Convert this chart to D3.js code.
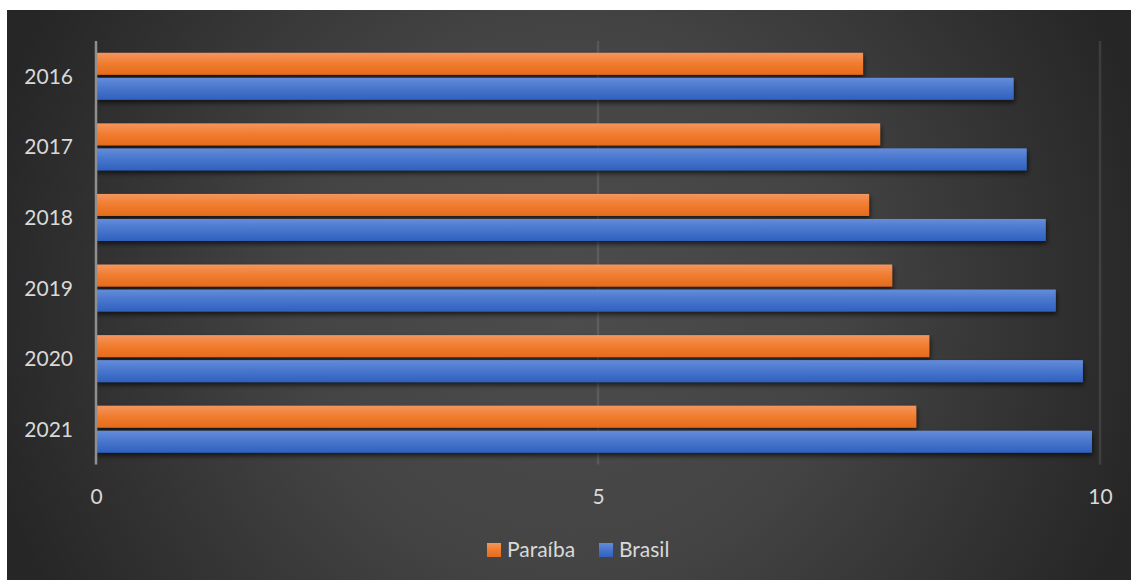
<!DOCTYPE html>
<html>
<head>
<meta charset="utf-8">
<script src="https://cdn.jsdelivr.net/npm/d3@7"></script>
<style>
html,body{margin:0;padding:0;background:#fff;}
svg{display:block;}
text{font-family:Lato,"Open Sans",sans-serif;}
</style>
</head>
<body>
<svg id="chart" width="1131" height="581"></svg>
<script>
const categories = ["2016","2017","2018","2019","2020","2021"];
const seriesNames = ["Paraíba","Brasil"];
const paraiba = [7.64, 7.81, 7.70, 7.93, 8.30, 8.17];
const brasil  = [9.14, 9.27, 9.46, 9.56, 9.83, 9.92];
const xTicks = [0, 5, 10];

const svg = d3.select("#chart");
const defs = svg.append("defs");

// background radial gradient
const bg = defs.append("radialGradient").attr("id","bgGrad")
  .attr("gradientUnits","userSpaceOnUse").attr("cx",569).attr("cy",300).attr("r",600);
bg.append("stop").attr("offset",0).attr("stop-color","#4c4c4c");
bg.append("stop").attr("offset",0.45).attr("stop-color","#444444");
bg.append("stop").attr("offset",1).attr("stop-color","#262626");

const grads = {
  "Paraíba": ["#f5955e","#f07c2e","#e56b1c"],
  "Brasil":  ["#648cda","#4775cc","#2f61be"]
};
seriesNames.forEach((s,i)=>{
  const g = defs.append("linearGradient").attr("id","bar"+i).attr("x1",0).attr("y1",0).attr("x2",0).attr("y2",1);
  g.append("stop").attr("offset",0).attr("stop-color",grads[s][0]);
  g.append("stop").attr("offset",0.5).attr("stop-color",grads[s][1]);
  g.append("stop").attr("offset",1).attr("stop-color",grads[s][2]);
});
const f = defs.append("filter").attr("id","shadow").attr("x","-5%").attr("y","-50%").attr("width","110%").attr("height","200%");
f.append("feDropShadow").attr("dx",1).attr("dy",3).attr("stdDeviation",2.5).attr("flood-color","#000").attr("flood-opacity",0.65);

svg.append("rect").attr("x",7).attr("y",10).attr("width",1124).attr("height",570).attr("fill","url(#bgGrad)");

const x = d3.scaleLinear().domain([0,10]).range([96,1100]);
const y = d3.scaleBand().domain(categories).range([41,464.5]).paddingInner(0.334).paddingOuter(0.167);
const ys = d3.scaleBand().domain(seriesNames).range([0,y.bandwidth()]).paddingInner(0.12);

// gridlines
svg.append("g").selectAll("line").data(xTicks.filter(t=>t>0)).join("line")
  .attr("x1",d=>x(d)).attr("x2",d=>x(d)).attr("y1",41).attr("y2",464.5)
  .attr("stroke","#ffffff").attr("stroke-opacity",0.1).attr("stroke-width",2.5);

// bars
const data = categories.map((c,i)=>({cat:c, vals:[{s:"Paraíba",v:paraiba[i],k:0},{s:"Brasil",v:brasil[i],k:1}]}));
const groups = svg.append("g").selectAll("g").data(data).join("g")
  .attr("transform",d=>`translate(0,${y(d.cat)})`);
groups.selectAll("rect").data(d=>d.vals).join("rect")
  .attr("x",x(0)).attr("y",d=>ys(d.s)).attr("width",d=>x(d.v)-x(0)).attr("height",ys.bandwidth())
  .attr("fill",d=>`url(#bar${d.k})`).attr("filter","url(#shadow)");

// axis line at 0
svg.append("line").attr("x1",x(0)).attr("x2",x(0)).attr("y1",41).attr("y2",464.5)
  .attr("stroke","#8f8f8f").attr("stroke-width",2.5);

// x axis tick labels
const xAxis = d3.axisBottom(x).tickValues(xTicks).tickSize(0).tickPadding(0);
const gx = svg.append("g").attr("transform","translate(0,504)").call(xAxis);
gx.select(".domain").remove();
gx.selectAll("text").attr("dy",0).attr("y",0).attr("fill","#d9d9d9").attr("font-size",21)
  .attr("font-family","Lato, 'Open Sans', sans-serif");

// y axis labels
const yAxis = d3.axisLeft(y).tickSize(0).tickPadding(0);
const gy = svg.append("g").attr("transform","translate(73,0)").call(yAxis);
gy.select(".domain").remove();
gy.selectAll("text").attr("dy","0.36em").attr("fill","#d9d9d9").attr("font-size",21)
  .attr("font-family","Lato, 'Open Sans', sans-serif");

// legend
const legendItems = [{s:"Paraíba",k:0,x:487},{s:"Brasil",k:1,x:599}];
const lg = svg.append("g").selectAll("g").data(legendItems).join("g")
  .attr("transform",d=>`translate(${d.x},543)`);
lg.append("rect").attr("width",14).attr("height",14).attr("fill",d=>`url(#bar${d.k})`);
lg.append("text").attr("x",20).attr("y",14).attr("fill","#d9d9d9").attr("font-size",21).text(d=>d.s);
</script>
</body>
</html>
